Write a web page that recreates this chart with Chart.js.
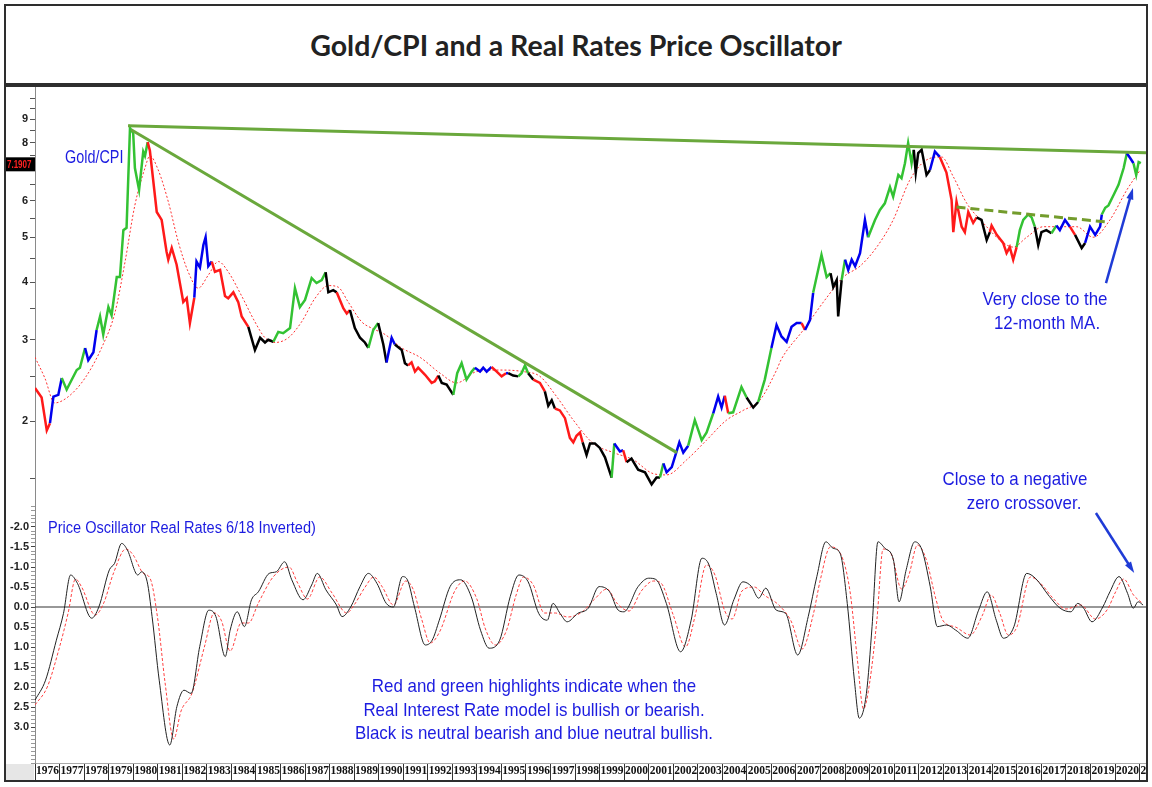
<!DOCTYPE html>
<html>
<head>
<meta charset="utf-8">
<script src="https://cdn.jsdelivr.net/npm/chart.js@4.4.1/dist/chart.umd.min.js"></script>
<style>
body { margin: 0; background: #fff; }
#wrap { position: relative; width: 1152px; height: 787px; overflow: hidden; }
#title { position: absolute; left: 4px; top: 4px; width: 1140px; height: 77px; border: 2px solid #2e2e2e;
  font-family: Lato, sans-serif; font-weight: 700; font-size: 28.5px; color: #222;
  display: flex; align-items: center; justify-content: center; }
#frame { position: absolute; left: 4px; top: 85px; width: 1140px; height: 693px; border: 2px solid #2e2e2e; }
#corner { position: absolute; left: 6px; top: 764px; width: 28px; height: 16px; background: #e6e6e6; }
canvas { position: absolute; }
.note { position: absolute; color: #1c1ce0; font-family: 'Liberation Sans', Arial, sans-serif;
  white-space: nowrap; line-height: 1; transform: scaleX(0.87); transform-origin: left center; }
.c { transform: translateX(-50%) scaleX(0.89); transform-origin: center center; text-align: center; }
</style>
</head>
<body>
<div id="wrap">
  <div id="title">Gold/CPI and a Real Rates Price Oscillator</div>
  <div id="frame"></div>
  <div id="corner"></div>
  <canvas id="goldChart" width="1140" height="418" style="left:6px;top:87px"></canvas>
  <canvas id="oscChart" width="1140" height="275" style="left:6px;top:505px"></canvas>

  <div class="note" style="left:65px;top:148px;font-size:18px;transform:scaleX(0.8)">Gold/CPI</div>
  <div class="note c" style="left:1045px;top:289px;font-size:19px">Very close to the</div>
  <div class="note c" style="left:1047px;top:313px;font-size:19px">12-month MA.</div>
  <div class="note c" style="left:1015px;top:469px;font-size:19px">Close to a negative</div>
  <div class="note c" style="left:1024px;top:493px;font-size:19px">zero crossover.</div>
  <div class="note" style="left:48px;top:520px;font-size:16px;transform:scaleX(0.91)">Price Oscillator Real Rates 6/18 Inverted)</div>
  <div class="note c" style="left:534px;top:676px;font-size:19px">Red and green highlights indicate when the</div>
  <div class="note c" style="left:534px;top:700px;font-size:19px">Real Interest Rate model is bullish or bearish.</div>
  <div class="note c" style="left:534px;top:723px;font-size:19px">Black is neutral bearish and blue neutral bullish.</div>
</div>

<script>
// Gold/CPI ratio (monthly-ish reading off the chart)
const goldYears = [
  1976.00, 1976.27, 1976.48, 1976.61, 1976.75, 1976.95, 1977.09, 1977.29, 1977.70, 1977.83,
  1978.04, 1978.17, 1978.38, 1978.51, 1978.65, 1978.78, 1978.99, 1979.12, 1979.33, 1979.46,
  1979.60, 1979.73, 1979.87, 1980.00, 1980.07, 1980.24, 1980.41, 1980.48, 1980.59, 1980.68,
  1980.96, 1981.16, 1981.36, 1981.43, 1981.57, 1981.77, 1982.04, 1982.18, 1982.31, 1982.49,
  1982.58, 1982.72, 1982.86, 1982.95, 1983.06, 1983.20, 1983.33, 1983.54, 1983.74, 1983.87,
  1984.08, 1984.28, 1984.42, 1984.69, 1984.96, 1985.17, 1985.37, 1985.50, 1985.71, 1985.91,
  1986.11, 1986.39, 1986.59, 1986.79, 1987.00, 1987.27, 1987.47, 1987.68, 1987.84, 1987.95,
  1988.15, 1988.29, 1988.56, 1988.70, 1988.83, 1989.03, 1989.24, 1989.44, 1989.58, 1989.78,
  1989.98, 1990.19, 1990.32, 1990.53, 1990.66, 1990.94, 1991.07, 1991.20, 1991.34, 1991.48,
  1991.61, 1991.89, 1992.16, 1992.29, 1992.43, 1992.57, 1992.77, 1993.04, 1993.20, 1993.38,
  1993.58, 1993.79, 1993.92, 1994.13, 1994.26, 1994.40, 1994.60, 1994.81, 1995.01, 1995.19,
  1995.28, 1995.48, 1995.69, 1995.82, 1995.96, 1996.09, 1996.30, 1996.57, 1996.77, 1996.91,
  1997.05, 1997.18, 1997.38, 1997.59, 1997.79, 1997.93, 1998.06, 1998.20, 1998.31, 1998.47,
  1998.61, 1998.81, 1999.01, 1999.22, 1999.49, 1999.60, 1999.83, 1999.96, 2000.10, 2000.30,
  2000.57, 2000.85, 2001.12, 2001.32, 2001.46, 2001.60, 2001.73, 2001.94, 2002.25, 2002.41,
  2002.61, 2002.88, 2003.16, 2003.36, 2003.63, 2003.83, 2003.97, 2004.10, 2004.24, 2004.44,
  2004.78, 2004.99, 2005.26, 2005.46, 2005.73, 2006.00, 2006.21, 2006.41, 2006.62, 2006.82,
  2007.03, 2007.23, 2007.37, 2007.57, 2007.70, 2008.04, 2008.25, 2008.41, 2008.52, 2008.66,
  2008.72, 2008.86, 2009.00, 2009.13, 2009.27, 2009.41, 2009.61, 2009.81, 2009.94, 2010.22,
  2010.42, 2010.62, 2010.83, 2010.96, 2011.17, 2011.30, 2011.44, 2011.57, 2011.71, 2011.80,
  2011.88, 2011.98, 2012.12, 2012.32, 2012.46, 2012.66, 2012.86, 2013.13, 2013.34, 2013.41,
  2013.54, 2013.75, 2013.88, 2014.02, 2014.22, 2014.36, 2014.56, 2014.77, 2014.90, 2014.97,
  2015.18, 2015.44, 2015.58, 2015.71, 2015.85, 2015.99, 2016.12, 2016.26, 2016.46, 2016.60,
  2016.73, 2016.87, 2017.00, 2017.20, 2017.41, 2017.61, 2017.75, 2017.96, 2018.16, 2018.37,
  2018.64, 2018.78, 2018.98, 2019.19, 2019.39, 2019.46, 2019.60, 2019.73, 2019.94, 2020.14,
  2020.35, 2020.48, 2020.62, 2020.75, 2020.86, 2020.96, 2021.05
];
const goldValues = [
  2.36, 2.25, 1.91, 1.98, 2.26, 2.28, 2.48, 2.34, 2.58, 2.61,
  2.88, 2.71, 2.82, 3.15, 3.37, 3.08, 3.53, 3.39, 4.10, 4.10,
  5.18, 5.24, 8.62, 8.40, 7.06, 6.33, 7.66, 7.50, 8.03, 7.70,
  5.67, 5.45, 4.65, 4.47, 4.74, 4.36, 3.62, 3.69, 3.26, 3.70,
  4.43, 4.30, 4.81, 5.00, 4.33, 4.43, 4.21, 4.25, 3.73, 3.69,
  3.80, 3.62, 3.37, 3.20, 2.85, 3.03, 2.96, 3.00, 2.97, 3.12,
  3.10, 3.18, 3.88, 3.53, 3.66, 4.08, 3.98, 4.04, 4.20, 3.80,
  3.84, 3.80, 3.51, 3.42, 3.48, 3.18, 3.03, 2.96, 2.88, 3.15,
  3.26, 2.93, 2.68, 3.03, 2.93, 2.85, 2.67, 2.64, 2.68, 2.56,
  2.61, 2.52, 2.42, 2.44, 2.51, 2.42, 2.40, 2.28, 2.54, 2.67,
  2.46, 2.56, 2.61, 2.56, 2.61, 2.56, 2.62, 2.56, 2.50, 2.54,
  2.54, 2.51, 2.50, 2.54, 2.64, 2.54, 2.46, 2.42, 2.32, 2.16,
  2.22, 2.13, 2.11, 2.03, 1.84, 1.80, 1.86, 1.89, 1.80, 1.69,
  1.79, 1.79, 1.75, 1.67, 1.51, 1.79, 1.72, 1.73, 1.63, 1.66,
  1.57, 1.55, 1.46, 1.51, 1.51, 1.62, 1.55, 1.59, 1.80, 1.71,
  1.77, 2.01, 1.82, 1.89, 2.08, 2.26, 2.14, 2.27, 2.08, 2.09,
  2.37, 2.25, 2.14, 2.20, 2.46, 2.88, 3.23, 3.05, 2.97, 3.20,
  3.26, 3.26, 3.15, 3.31, 3.79, 4.58, 4.10, 4.18, 3.90, 4.04,
  3.37, 4.04, 4.47, 4.25, 4.47, 4.33, 4.62, 5.45, 5.00, 5.45,
  5.73, 5.92, 6.42, 6.12, 6.82, 6.71, 7.23, 8.00, 7.23, 7.73,
  6.90, 7.60, 7.73, 6.82, 6.99, 7.66, 7.46, 6.90, 6.02, 5.13,
  5.97, 5.27, 5.13, 5.67, 5.37, 5.52, 5.45, 4.93, 5.13, 5.30,
  5.06, 4.86, 4.62, 4.76, 4.47, 4.76, 5.18, 5.45, 5.60, 5.52,
  5.27, 4.81, 5.13, 5.18, 5.10, 5.30, 5.18, 5.45, 5.27, 5.06,
  4.74, 4.86, 5.27, 5.06, 5.27, 5.60, 5.79, 5.86, 6.17, 6.49,
  7.06, 7.60, 7.41, 7.23, 6.82, 7.27, 7.23
];
// model state from each point on: G bullish, R bearish, K neutral bearish, B neutral bullish
const goldStates = (
  'RRRBBBGGGG' + 'BBBGGGGGGG' + 'GGGGGGGGRR' + 'RRRRRRRRRB' + 'BBBBBRRRRR' +
  'RRRKKKKKGG' + 'GGGGGGGGKK' + 'KRRRKKKKGG' + 'KKBBKKKRRR' + 'RRRRKKKGGG' +
  'GGBBBBRRRB' + 'KKGGGKRRKK' + 'KRRRRRRRKK' + 'KKKKGBBRKK' + 'KKKKGBBBBB' +
  'GGGGBBBRGG' + 'GKKGGBBBBB' + 'BRBBGGGKKK' + 'KGBBBBBBGG' + 'GGGGGGGGGK' +
  'KKKKBBRRRR' + 'RRRRRKKKRR' + 'RRRRRGGGGG' + 'KKKKGBBBRK' + 'KBBBBGGGGG' +
  'GBBGGGG'
).split('');
const lastValue = 7.1907;

// 12-month moving average of Gold/CPI
const maYears = [1976.00, 1976.40, 1976.80, 1977.36, 1978.04, 1978.71, 1979.26, 1979.67, 1980.07, 1980.48,
  1980.68, 1981.02, 1981.43, 1981.84, 1982.24, 1982.65, 1983.06, 1983.47, 1983.87, 1984.42,
  1984.96, 1985.37, 1985.78, 1986.32, 1986.86, 1987.41, 1987.95, 1988.35, 1988.76, 1989.31,
  1989.71, 1990.26, 1990.94, 1991.68, 1992.50, 1993.18, 1993.99, 1994.94, 1995.89, 1996.57,
  1997.25, 1997.93, 1998.74, 1999.56, 2000.37, 2001.18, 2001.73, 2002.55, 2003.36, 2004.17,
  2004.85, 2005.53, 2006.21, 2006.40, 2007.30, 2008.25, 2008.93, 2009.61, 2010.29, 2010.96,
  2011.64, 2012.32, 2012.93, 2013.41, 2013.96, 2014.63, 2015.31, 2015.85, 2016.40, 2017.08,
  2017.75, 2018.43, 2019.11, 2019.79, 2020.48, 2021.02];
const maValues = [2.75, 2.48, 2.19, 2.26, 2.48, 2.88, 3.44, 4.43, 5.87, 7.06,
  7.50, 6.99, 5.97, 4.88, 4.21, 3.88, 4.14, 4.43, 4.21, 3.73,
  3.28, 3.03, 2.96, 3.03, 3.28, 3.69, 3.93, 3.90, 3.62, 3.28,
  3.18, 3.08, 2.88, 2.75, 2.54, 2.42, 2.56, 2.58, 2.56, 2.50,
  2.26, 2.01, 1.79, 1.71, 1.65, 1.54, 1.53, 1.65, 1.82, 2.01,
  2.11, 2.22, 2.58, 2.72, 3.15, 3.70, 4.10, 4.33, 4.76, 5.45,
  6.65, 7.35, 7.46, 6.76, 5.92, 5.37, 4.93, 4.76, 5.00, 5.27,
  5.27, 5.27, 5.00, 5.45, 6.33, 6.99];

// trend lines [x0, y0, x1, y1]
const topLine = [1979.79, 8.71, 2021.26, 7.62];
const downLine = [1979.92, 8.54, 2002.15, 1.71];
const baseLine = [2013.54, 5.81, 2019.72, 5.39];

// Price oscillator of real rates (inverted) and its signal
const oscYears = [1976.00, 1976.43, 1976.87, 1977.16, 1977.45, 1977.73, 1978.31, 1978.60, 1979.03, 1979.24,
  1979.53, 1979.76, 1980.19, 1980.34, 1980.57, 1980.77, 1981.06, 1981.49, 1981.78, 1982.07,
  1982.36, 1982.71, 1983.08, 1983.37, 1983.75, 1983.95, 1984.24, 1984.53, 1984.82, 1985.10,
  1985.54, 1985.83, 1986.17, 1986.46, 1986.92, 1987.27, 1987.50, 1987.85, 1988.28, 1988.51,
  1988.86, 1989.24, 1989.58, 1989.93, 1990.31, 1990.60, 1990.97, 1991.17, 1991.46, 1991.90,
  1992.18, 1992.47, 1992.91, 1993.34, 1993.77, 1994.15, 1994.50, 1994.93, 1995.36, 1995.71,
  1996.09, 1996.52, 1996.87, 1997.10, 1997.39, 1997.68, 1998.11, 1998.54, 1998.98, 1999.41,
  1999.76, 1999.99, 2000.57, 2001.00, 2001.29, 2001.72, 2002.30, 2002.73, 2003.17, 2003.46,
  2003.75, 2004.09, 2004.47, 2004.84, 2005.19, 2005.48, 2005.77, 2006.20, 2006.58, 2007.07,
  2007.50, 2007.85, 2008.22, 2008.51, 2008.80, 2009.09, 2009.38, 2009.58, 2009.87, 2010.10,
  2010.34, 2010.62, 2010.97, 2011.20, 2011.49, 2011.84, 2012.13, 2012.47, 2012.76, 2013.14,
  2013.51, 2014.00, 2014.44, 2014.79, 2015.16, 2015.45, 2015.88, 2016.40, 2016.75, 2017.33,
  2017.76, 2018.20, 2018.48, 2018.72, 2019.06, 2019.50, 2019.79, 2020.16, 2020.51, 2020.74,
  2020.94, 2021.14];
const oscValues = [2.33, 1.83, 0.83, 0.16, -0.80, -0.59, 0.28, 0.00, -0.93, -1.09,
  -1.59, -1.43, -0.80, -0.88, -0.63, 0.24, 1.83, 3.45, 2.49, 2.08,
  2.16, 0.99, 0.08, 0.24, 1.24, 0.58, 0.12, 0.49, -0.18, -0.38,
  -0.84, -0.88, -1.13, -0.68, -0.18, -0.55, -0.84, -0.43, -0.05, 0.24,
  0.00, -0.51, -0.84, -0.59, -0.09, 0.00, -0.76, -0.68, 0.00, 0.95,
  0.83, 0.33, -0.51, -0.68, -0.26, 0.58, 1.03, 0.83, -0.26, -0.80,
  -0.63, 0.16, 0.33, -0.09, 0.16, 0.37, 0.16, 0.03, -0.51, -0.38,
  0.08, 0.12, -0.51, -0.72, -0.69, -0.09, 1.12, 0.33, -1.22, -1.05,
  -0.34, 0.45, -0.18, -0.63, -0.51, -0.22, -0.47, 0.08, 0.16, 1.20,
  0.24, -0.76, -1.63, -1.47, -1.34, -0.09, 1.83, 2.78, 2.16, 0.49,
  -1.63, -1.47, -1.18, -0.13, -0.93, -1.63, -1.43, -0.51, 0.49, 0.45,
  0.58, 0.78, 0.08, -0.38, 0.33, 0.78, 0.49, -0.84, -0.72, -0.26,
  0.03, 0.12, -0.09, 0.03, 0.37, 0.00, -0.38, -0.76, -0.34, 0.03,
  -0.13, -0.05];
const sigYears = [1976.00, 1976.50, 1977.00, 1977.35, 1977.65, 1977.90, 1978.45, 1978.80, 1979.20, 1979.70,
  1980.00, 1980.40, 1980.70, 1981.00, 1981.30, 1981.65, 1981.95, 1982.40, 1982.90, 1983.30,
  1983.60, 1983.95, 1984.40, 1984.70, 1985.10, 1985.70, 1986.35, 1986.70, 1987.10, 1987.60,
  1988.10, 1988.70, 1989.00, 1989.45, 1989.80, 1990.15, 1990.60, 1991.10, 1991.40, 1991.75,
  1992.10, 1992.50, 1993.10, 1993.50, 1994.00, 1994.35, 1994.75, 1995.20, 1995.60, 1995.90,
  1996.30, 1996.75, 1997.20, 1997.70, 1998.30, 1998.80, 1999.30, 1999.70, 2000.20, 2000.70,
  2001.20, 2001.50, 2002.00, 2002.50, 2002.90, 2003.35, 2003.70, 2004.10, 2004.40, 2004.80,
  2005.30, 2005.70, 2006.30, 2006.80, 2007.25, 2007.70, 2008.00, 2008.40, 2008.80, 2009.20,
  2009.50, 2009.75, 2010.00, 2010.30, 2010.55, 2010.90, 2011.30, 2011.60, 2011.95, 2012.30,
  2012.70, 2013.00, 2013.50, 2014.10, 2014.60, 2014.95, 2015.30, 2015.65, 2016.00, 2016.55,
  2016.95, 2017.50, 2018.00, 2018.60, 2019.20, 2019.70, 2020.00, 2020.35, 2020.75, 2021.10];
const sigValues = [2.45, 2.00, 1.00, 0.15, -0.70, -0.50, 0.20, -0.10, -0.85, -1.45,
  -1.30, -0.85, -0.70, 0.30, 1.90, 3.30, 2.60, 2.15, 1.00, 0.15,
  0.35, 1.10, 0.40, 0.40, -0.10, -0.75, -1.00, -0.60, -0.20, -0.75,
  -0.35, 0.15, -0.05, -0.50, -0.75, -0.50, -0.05, -0.65, -0.45, 0.30,
  0.90, 0.60, -0.40, -0.65, -0.20, 0.55, 0.95, 0.60, -0.30, -0.75,
  -0.55, 0.15, 0.15, 0.25, 0.12, -0.20, -0.45, -0.10, 0.10, -0.40,
  -0.65, -0.60, 0.20, 1.00, 0.20, -1.05, -0.80, 0.10, 0.30, -0.40,
  -0.50, -0.30, -0.05, 0.35, 1.05, 0.20, -0.70, -1.50, -1.35, -0.40,
  1.30, 2.55, 1.90, 0.30, -1.45, -1.30, -0.45, -0.80, -1.55, -1.20,
  -0.20, 0.35, 0.50, 0.70, 0.20, -0.30, 0.15, 0.70, 0.50, -0.75,
  -0.60, -0.20, 0.05, -0.05, 0.30, 0.05, -0.35, -0.70, -0.30, -0.10];

// axes
const xMin = 1976, xMax = 2021.26;
const yearTicks = Array.from({ length: 46 }, (_, i) => 1976 + i);
const goldTicks = [1.5, 2, 2.5, 3, 3.5, 4, 4.5, 5, 5.5, 6, 6.5, 7, 7.5, 8, 8.5, 9, 9.5, 10];
const goldLabels = [2, 3, 4, 5, 6, 8, 9];
const oscLabels = [-2.0, -1.5, -1.0, -0.5, 0.0, 0.5, 1.0, 1.5, 2.0, 2.5, 3.0];
const oscTicks = Array.from({ length: 65 }, (_, i) => Math.round((-2.5 + i * 0.1) * 10) / 10);

// arrows [x0, y0, x1, y1] in data units
const goldArrows = [[2019.63, 3.98, 2020.73, 6.39]];
const oscArrows = [[2019.22, -2.35, 2020.78, -0.85]];

const stateColors = { G: '#33c233', R: '#ff1a1a', K: '#000000', B: '#0000ee' };
const pts = (xs, ys) => xs.map((x, i) => ({ x: x, y: ys[i] }));
const seg = a => [{ x: a[0], y: a[1] }, { x: a[2], y: a[3] }];
const setTicks = values => scale => { scale.ticks = values.map(v => ({ value: v })); };
const axisFont = { family: "'Liberation Sans', Arial, sans-serif", size: 11, weight: 'bold' };

function arrowPlugin(arrows) {
    return {
        id: 'arrows',
        afterDatasetsDraw(chart) {
            const { ctx, scales: { x, y } } = chart;
            ctx.save();
            ctx.strokeStyle = ctx.fillStyle = '#1f3bd6';
            ctx.lineWidth = 2.5;
            arrows.forEach(a => {
                const x0 = x.getPixelForValue(a[0]), y0 = y.getPixelForValue(a[1]);
                const x1 = x.getPixelForValue(a[2]), y1 = y.getPixelForValue(a[3]);
                const ang = Math.atan2(y1 - y0, x1 - x0);
                ctx.beginPath();
                ctx.moveTo(x0, y0);
                ctx.lineTo(x1 - 8 * Math.cos(ang), y1 - 8 * Math.sin(ang));
                ctx.stroke();
                ctx.beginPath();
                ctx.moveTo(x1, y1);
                ctx.lineTo(x1 - 12 * Math.cos(ang - 0.3), y1 - 12 * Math.sin(ang - 0.3));
                ctx.lineTo(x1 - 12 * Math.cos(ang + 0.3), y1 - 12 * Math.sin(ang + 0.3));
                ctx.closePath();
                ctx.fill();
            });
            ctx.restore();
        }
    };
}

// last value tag on the price axis
const markerPlugin = {
    id: 'marker',
    afterDraw(chart) {
        const ctx = chart.ctx;
        const y = chart.scales.y.getPixelForValue(lastValue);
        ctx.save();
        ctx.fillStyle = '#000';
        ctx.fillRect(0, y - 7, chart.chartArea.left, 14);
        ctx.fillStyle = '#ff2222';
        ctx.font = "bold 10px 'Liberation Sans', sans-serif";
        ctx.textAlign = 'left';
        ctx.textBaseline = 'middle';
        ctx.translate(1, y + 1);
        ctx.scale(0.8, 1);
        ctx.fillText(lastValue.toFixed(4), 0, 0);
        ctx.restore();
    }
};

const yAxisFit = s => { s.width = 29; s.paddingTop = 0; s.paddingBottom = 0; };

// Upper panel: Gold/CPI
new Chart(document.getElementById('goldChart').getContext('2d'), {
    type: 'line',
    data: {
        datasets: [{
            data: pts(goldYears, goldValues),
            borderColor: '#33c233',
            borderWidth: 2.5,
            segment: { borderColor: c => stateColors[goldStates[c.p0DataIndex]] },
            order: 1
        }, {
            data: seg(topLine), borderColor: '#6aa83c', borderWidth: 3, order: 0
        }, {
            data: seg(downLine), borderColor: '#6aa83c', borderWidth: 3, order: 0
        }, {
            data: seg(baseLine), borderColor: '#739c2c', borderWidth: 3, borderDash: [9, 5], order: 0
        }, {
            data: pts(maYears, maValues),
            borderColor: '#ff3030', borderWidth: 1, borderDash: [2, 2], order: 2, cubicInterpolationMode: 'monotone'
        }]
    },
    options: {
        responsive: false,
        animation: false,
        layout: { autoPadding: false, padding: 0 },
        elements: { point: { radius: 0 }, line: { tension: 0 } },
        plugins: { legend: { display: false }, tooltip: { enabled: false } },
        scales: {
            x: { type: 'linear', display: false, min: xMin, max: xMax },
            y: {
                type: 'logarithmic', min: 1.317, max: 10.57,
                afterBuildTicks: setTicks(goldTicks),
                afterFit: yAxisFit,
                grid: { drawOnChartArea: false, tickLength: 5, tickColor: '#555' },
                border: { color: '#8a8a8a' },
                ticks: {
                    autoSkip: false, padding: 2, color: '#222', font: axisFont,
                    callback: v => goldLabels.includes(v) ? String(v) : ''
                }
            }
        }
    },
    plugins: [arrowPlugin(goldArrows), markerPlugin]
});

// Lower panel: price oscillator
new Chart(document.getElementById('oscChart').getContext('2d'), {
    type: 'line',
    data: {
        datasets: [{
            data: pts(oscYears, oscValues), borderColor: '#222', borderWidth: 1,
            cubicInterpolationMode: 'monotone', order: 0
        }, {
            data: pts(sigYears, sigValues), borderColor: '#ff4040', borderWidth: 1, borderDash: [3, 2],
            cubicInterpolationMode: 'monotone', order: 1
        }, {
            data: [{ x: xMin, y: 0 }, { x: xMax, y: 0 }], borderColor: '#333', borderWidth: 1.2, order: 2
        }]
    },
    options: {
        responsive: false,
        animation: false,
        layout: { autoPadding: false, padding: 0 },
        elements: { point: { radius: 0 }, line: { tension: 0 } },
        plugins: { legend: { display: false }, tooltip: { enabled: false } },
        scales: {
            x: {
                type: 'linear', min: xMin, max: xMax,
                afterBuildTicks: setTicks(yearTicks),
                afterFit: s => { s.height = 17; s.paddingLeft = 0; s.paddingRight = 0; },
                grid: { drawOnChartArea: false, tickLength: 17, tickColor: '#333' },
                border: { color: '#aaa' },
                ticks: {
                    autoSkip: false, maxRotation: 0, align: 'start', padding: -16, color: '#111',
                    font: { family: "'Liberation Serif', 'Times New Roman', serif", size: 11.5, weight: 'bold' },
                    callback: v => '\u200A' + v
                }
            },
            y: {
                type: 'linear', reverse: true, min: -2.55, max: 3.9,
                afterBuildTicks: setTicks(oscTicks),
                afterFit: yAxisFit,
                grid: {
                    drawOnChartArea: false, tickLength: 4,
                    tickColor: c => oscLabels.includes(c.tick.value) ? '#444' : '#999'
                },
                border: { color: '#8a8a8a' },
                ticks: {
                    autoSkip: false, padding: 2, color: '#222', font: axisFont,
                    callback: v => oscLabels.includes(v) ? v.toFixed(1) : ''
                }
            }
        }
    },
    plugins: [arrowPlugin(oscArrows)]
});
</script>
</body>
</html>
